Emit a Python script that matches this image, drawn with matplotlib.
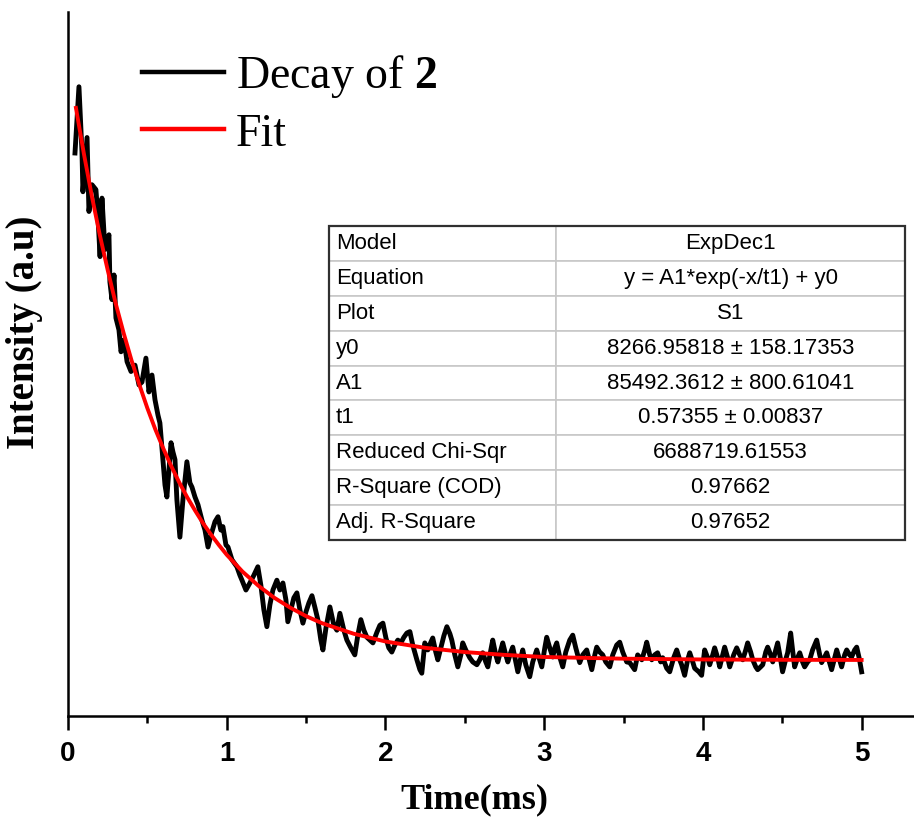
import numpy as np
import matplotlib.pyplot as plt
from matplotlib.patches import Rectangle

plt.rcParams['mathtext.fontset'] = 'custom'
plt.rcParams['mathtext.rm'] = 'Liberation Serif'
plt.rcParams['mathtext.bf'] = 'Liberation Serif:bold'

# measured decay (time in ms, intensity in thousands of counts)
time_ms = [0.044, 0.069, 0.088, 0.094, 0.120, 0.132, 0.151, 0.176, 0.189, 0.202,
           0.214, 0.233, 0.258, 0.264, 0.277, 0.290, 0.302, 0.321, 0.334, 0.353,
           0.372, 0.397, 0.422, 0.447, 0.466, 0.491, 0.510, 0.529, 0.548, 0.567,
           0.579, 0.598, 0.611, 0.623, 0.636, 0.649, 0.661, 0.674, 0.686, 0.705,
           0.724, 0.749, 0.768, 0.781, 0.800, 0.819, 0.844, 0.863, 0.882, 0.901,
           0.926, 0.945, 0.963, 0.976, 0.995, 1.008, 1.033, 1.064, 1.083, 1.096,
           1.121, 1.146, 1.171, 1.196, 1.215, 1.234, 1.253, 1.272, 1.291, 1.316,
           1.335, 1.354, 1.373, 1.385, 1.404, 1.423, 1.442, 1.461, 1.480, 1.499,
           1.518, 1.537, 1.556, 1.574, 1.593, 1.606, 1.625, 1.650, 1.675, 1.694,
           1.713, 1.738, 1.757, 1.782, 1.807, 1.826, 1.845, 1.864, 1.883, 1.902,
           1.921, 1.946, 1.965, 1.984, 2.003, 2.021, 2.040, 2.059, 2.078, 2.097,
           2.116, 2.135, 2.154, 2.172, 2.198, 2.217, 2.229, 2.248, 2.267, 2.286,
           2.298, 2.317, 2.330, 2.349, 2.368, 2.387, 2.406, 2.418, 2.437, 2.456,
           2.475, 2.487, 2.506, 2.531, 2.550, 2.576, 2.594, 2.613, 2.632, 2.645,
           2.664, 2.676, 2.695, 2.708, 2.727, 2.739, 2.758, 2.771, 2.790, 2.802,
           2.821, 2.834, 2.853, 2.865, 2.884, 2.909, 2.928, 2.953, 2.972, 2.985,
           3.004, 3.016, 3.035, 3.054, 3.067, 3.079, 3.098, 3.117, 3.136, 3.161,
           3.180, 3.199, 3.224, 3.243, 3.268, 3.287, 3.300, 3.319, 3.331, 3.350,
           3.369, 3.388, 3.413, 3.432, 3.457, 3.476, 3.495, 3.520, 3.539, 3.570,
           3.589, 3.615, 3.634, 3.646, 3.665, 3.678, 3.696, 3.715, 3.734, 3.747,
           3.772, 3.791, 3.816, 3.835, 3.854, 3.866, 3.885, 3.904, 3.917, 3.936,
           3.948, 3.974, 3.992, 4.011, 4.030, 4.043, 4.062, 4.074, 4.093, 4.106,
           4.125, 4.137, 4.156, 4.169, 4.194, 4.213, 4.232, 4.251, 4.270, 4.282,
           4.301, 4.314, 4.333, 4.345, 4.364, 4.377, 4.396, 4.408, 4.427, 4.440,
           4.459, 4.471, 4.490, 4.502, 4.521, 4.534, 4.553, 4.565, 4.578, 4.597,
           4.610, 4.628, 4.641, 4.660, 4.673, 4.691, 4.717, 4.736, 4.748, 4.767,
           4.780, 4.798, 4.811, 4.830, 4.843, 4.861, 4.874, 4.893, 4.906, 4.924,
           4.937, 4.956, 4.969, 4.987, 5.000]
intensity = [80.2, 89.6, 80.4, 74.7, 82.4, 71.9, 75.7, 75.0, 71.0, 65.5,
             73.8, 66.5, 68.6, 61.9, 59.4, 62.9, 56.8, 55.1, 52.0, 53.7,
             50.6, 49.2, 50.1, 47.3, 47.7, 51.1, 46.3, 48.7, 45.2, 43.0,
             41.9, 36.7, 33.1, 31.4, 35.2, 39.1, 37.8, 36.7, 31.0, 25.7,
             31.0, 36.4, 33.4, 32.8, 31.4, 30.3, 28.1, 26.7, 24.3, 26.0,
             27.9, 28.6, 26.7, 27.2, 24.6, 24.3, 22.5, 21.5, 20.3, 19.6,
             18.2, 19.2, 20.3, 21.5, 18.9, 15.4, 13.0, 16.1, 18.2, 19.6,
             18.2, 19.2, 16.8, 13.7, 15.4, 17.1, 17.8, 15.4, 13.5, 15.1,
             16.4, 17.4, 15.7, 14.0, 11.1, 9.7, 12.8, 15.8, 13.2, 12.5,
             14.9, 12.5, 11.1, 10.0, 9.0, 11.8, 14.0, 12.5, 11.5, 11.1,
             10.7, 12.2, 13.2, 13.5, 11.4, 10.0, 9.4, 10.4, 11.1, 10.7,
             11.5, 12.1, 12.3, 10.4, 8.3, 6.9, 6.4, 10.7, 9.7, 10.8,
             11.4, 9.4, 8.3, 10.0, 11.7, 13.0, 12.0, 11.1, 9.0, 7.3,
             9.0, 10.7, 9.7, 8.6, 8.0, 7.6, 8.3, 9.3, 8.0, 7.3,
             9.7, 11.1, 9.0, 8.0, 9.7, 10.7, 9.0, 8.0, 9.4, 10.1,
             8.0, 6.6, 8.6, 9.7, 7.6, 5.9, 8.0, 9.7, 8.3, 7.3,
             10.0, 11.5, 10.0, 8.7, 10.0, 10.7, 8.7, 7.3, 9.4, 11.1,
             11.8, 10.0, 7.9, 9.0, 9.7, 8.0, 6.9, 9.0, 10.1, 9.4,
             9.0, 8.0, 7.3, 9.0, 10.4, 10.8, 9.4, 8.0, 7.9, 6.9,
             9.0, 8.3, 9.7, 10.8, 9.0, 8.3, 9.0, 9.3, 8.0, 8.6,
             7.1, 6.6, 8.6, 9.7, 8.3, 7.6, 6.1, 8.3, 9.3, 8.0,
             7.1, 6.6, 6.1, 9.7, 8.6, 7.6, 9.0, 10.0, 8.6, 7.3,
             9.0, 10.1, 8.6, 7.3, 9.0, 10.0, 9.0, 8.3, 9.7, 10.7,
             9.4, 8.3, 7.3, 6.9, 7.3, 7.6, 9.4, 10.1, 9.0, 8.0,
             9.7, 10.7, 8.3, 6.6, 8.3, 9.3, 12.1, 9.7, 7.3, 8.6,
             9.3, 8.0, 7.3, 8.0, 8.3, 9.7, 11.1, 9.0, 7.9, 8.7,
             9.3, 7.9, 6.9, 8.6, 9.7, 8.3, 7.3, 9.0, 9.7, 9.0,
             8.7, 9.7, 10.1, 8.3, 6.6]

# fitted ExpDec1 curve
fit_time = [0.05, 0.10, 0.15, 0.20, 0.25, 0.30, 0.35, 0.40, 0.45, 0.50,
            0.55, 0.60, 0.65, 0.70, 0.75, 0.80, 0.85, 0.90, 0.95, 1.00,
            1.1, 1.2, 1.3, 1.4, 1.5, 1.6, 1.8, 2.0, 2.25, 2.5,
            2.75, 3.0, 3.5, 4.0, 4.5, 5.0]
fit_val = [86.6, 80.1, 74.1, 68.6, 63.6, 58.9, 54.7, 50.8, 47.3, 44.0,
           41.0, 38.3, 35.8, 33.5, 31.4, 29.5, 27.7, 26.1, 24.6, 23.2,
           20.8, 18.8, 17.1, 15.7, 14.5, 13.5, 12.0, 10.9, 10.0, 9.4,
           9.0, 8.7, 8.46, 8.35, 8.30, 8.28]

table_rows = ["Model", "Equation", "Plot", "y0", "A1", "t1",
              "Reduced Chi-Sqr", "R-Square (COD)", "Adj. R-Square"]
table_vals = ["ExpDec1", "y = A1*exp(-x/t1) + y0", "S1",
              "8266.95818 ± 158.17353", "85492.3612 ± 800.61041",
              "0.57355 ± 0.00837", "6688719.61553", "0.97662", "0.97652"]

fig = plt.figure(figsize=(9.14, 8.18), dpi=100)
ax = fig.add_axes([0.0744, 0.1247, 0.9256, 0.8606])

ax.plot(time_ms, intensity, color='black', lw=3.5, label='Decay of $\\mathbf{2}$')
ax.plot(fit_time, fit_val, color='#ff0000', lw=2.8, label='Fit')

ax.set_xlim(0, 5.33)
ax.set_ylim(0.33, 100.2)
ax.spines['top'].set_visible(False)
ax.spines['right'].set_visible(False)
ax.spines['left'].set_linewidth(1.8)
ax.spines['bottom'].set_linewidth(1.8)
ax.set_yticks([])
ax.set_xticks([0, 1, 2, 3, 4, 5])
ax.set_xticks([0.5, 1.5, 2.5, 3.5, 4.5], minor=True)
ax.tick_params(axis='x', which='major', length=10, width=1.8, pad=8)
ax.tick_params(axis='x', which='minor', length=5, width=1.8)
for lab in ax.get_xticklabels():
    lab.set_family('Liberation Sans')
    lab.set_fontweight('bold')
    lab.set_fontsize(20)

ax.set_xlabel('Time(ms)', family='Liberation Serif', fontweight='bold',
              fontsize=26)
ax.xaxis.set_label_coords(0.48, -0.095)
ax.set_ylabel('Intensity (a.u)', family='Liberation Serif', fontweight='bold',
              fontsize=28)
ax.yaxis.set_label_coords(-0.029, 0.545)

leg = ax.legend(loc='upper left', bbox_to_anchor=(0.155, 0.935),
                bbox_transform=fig.transFigure, frameon=False,
                prop={'family': 'Liberation Serif', 'size': 33},
                handlelength=1.8, handletextpad=0.25, labelspacing=0.28,
                borderpad=0, borderaxespad=0)
for h in leg.legend_handles:
    h.set_linewidth(3.2)

# parameter table
tx0, ty0, tw, th = 0.3085, 0.25, 0.681, 0.446
cells = [[r, v] for r, v in zip(table_rows, table_vals)]
tab = ax.table(cellText=cells, colWidths=[0.394, 0.606],
               bbox=[tx0, ty0, tw, th], cellLoc='center')
tab.auto_set_font_size(False)
for (r, c), cell in tab.get_celld().items():
    cell.set_edgecolor('#c8c8c8')
    cell.set_linewidth(1.2)
    cell.get_text().set_fontsize(16)
    cell.get_text().set_family('Liberation Sans')
    if c == 0:
        cell.get_text().set_ha('left')
        cell.PAD = 0.03
        cell._loc = 'left'
ax.add_patch(Rectangle((tx0, ty0), tw, th, transform=ax.transAxes,
                       fill=False, edgecolor='#303030', lw=1.6, zorder=5))

fig.savefig('out.png', dpi=100)
